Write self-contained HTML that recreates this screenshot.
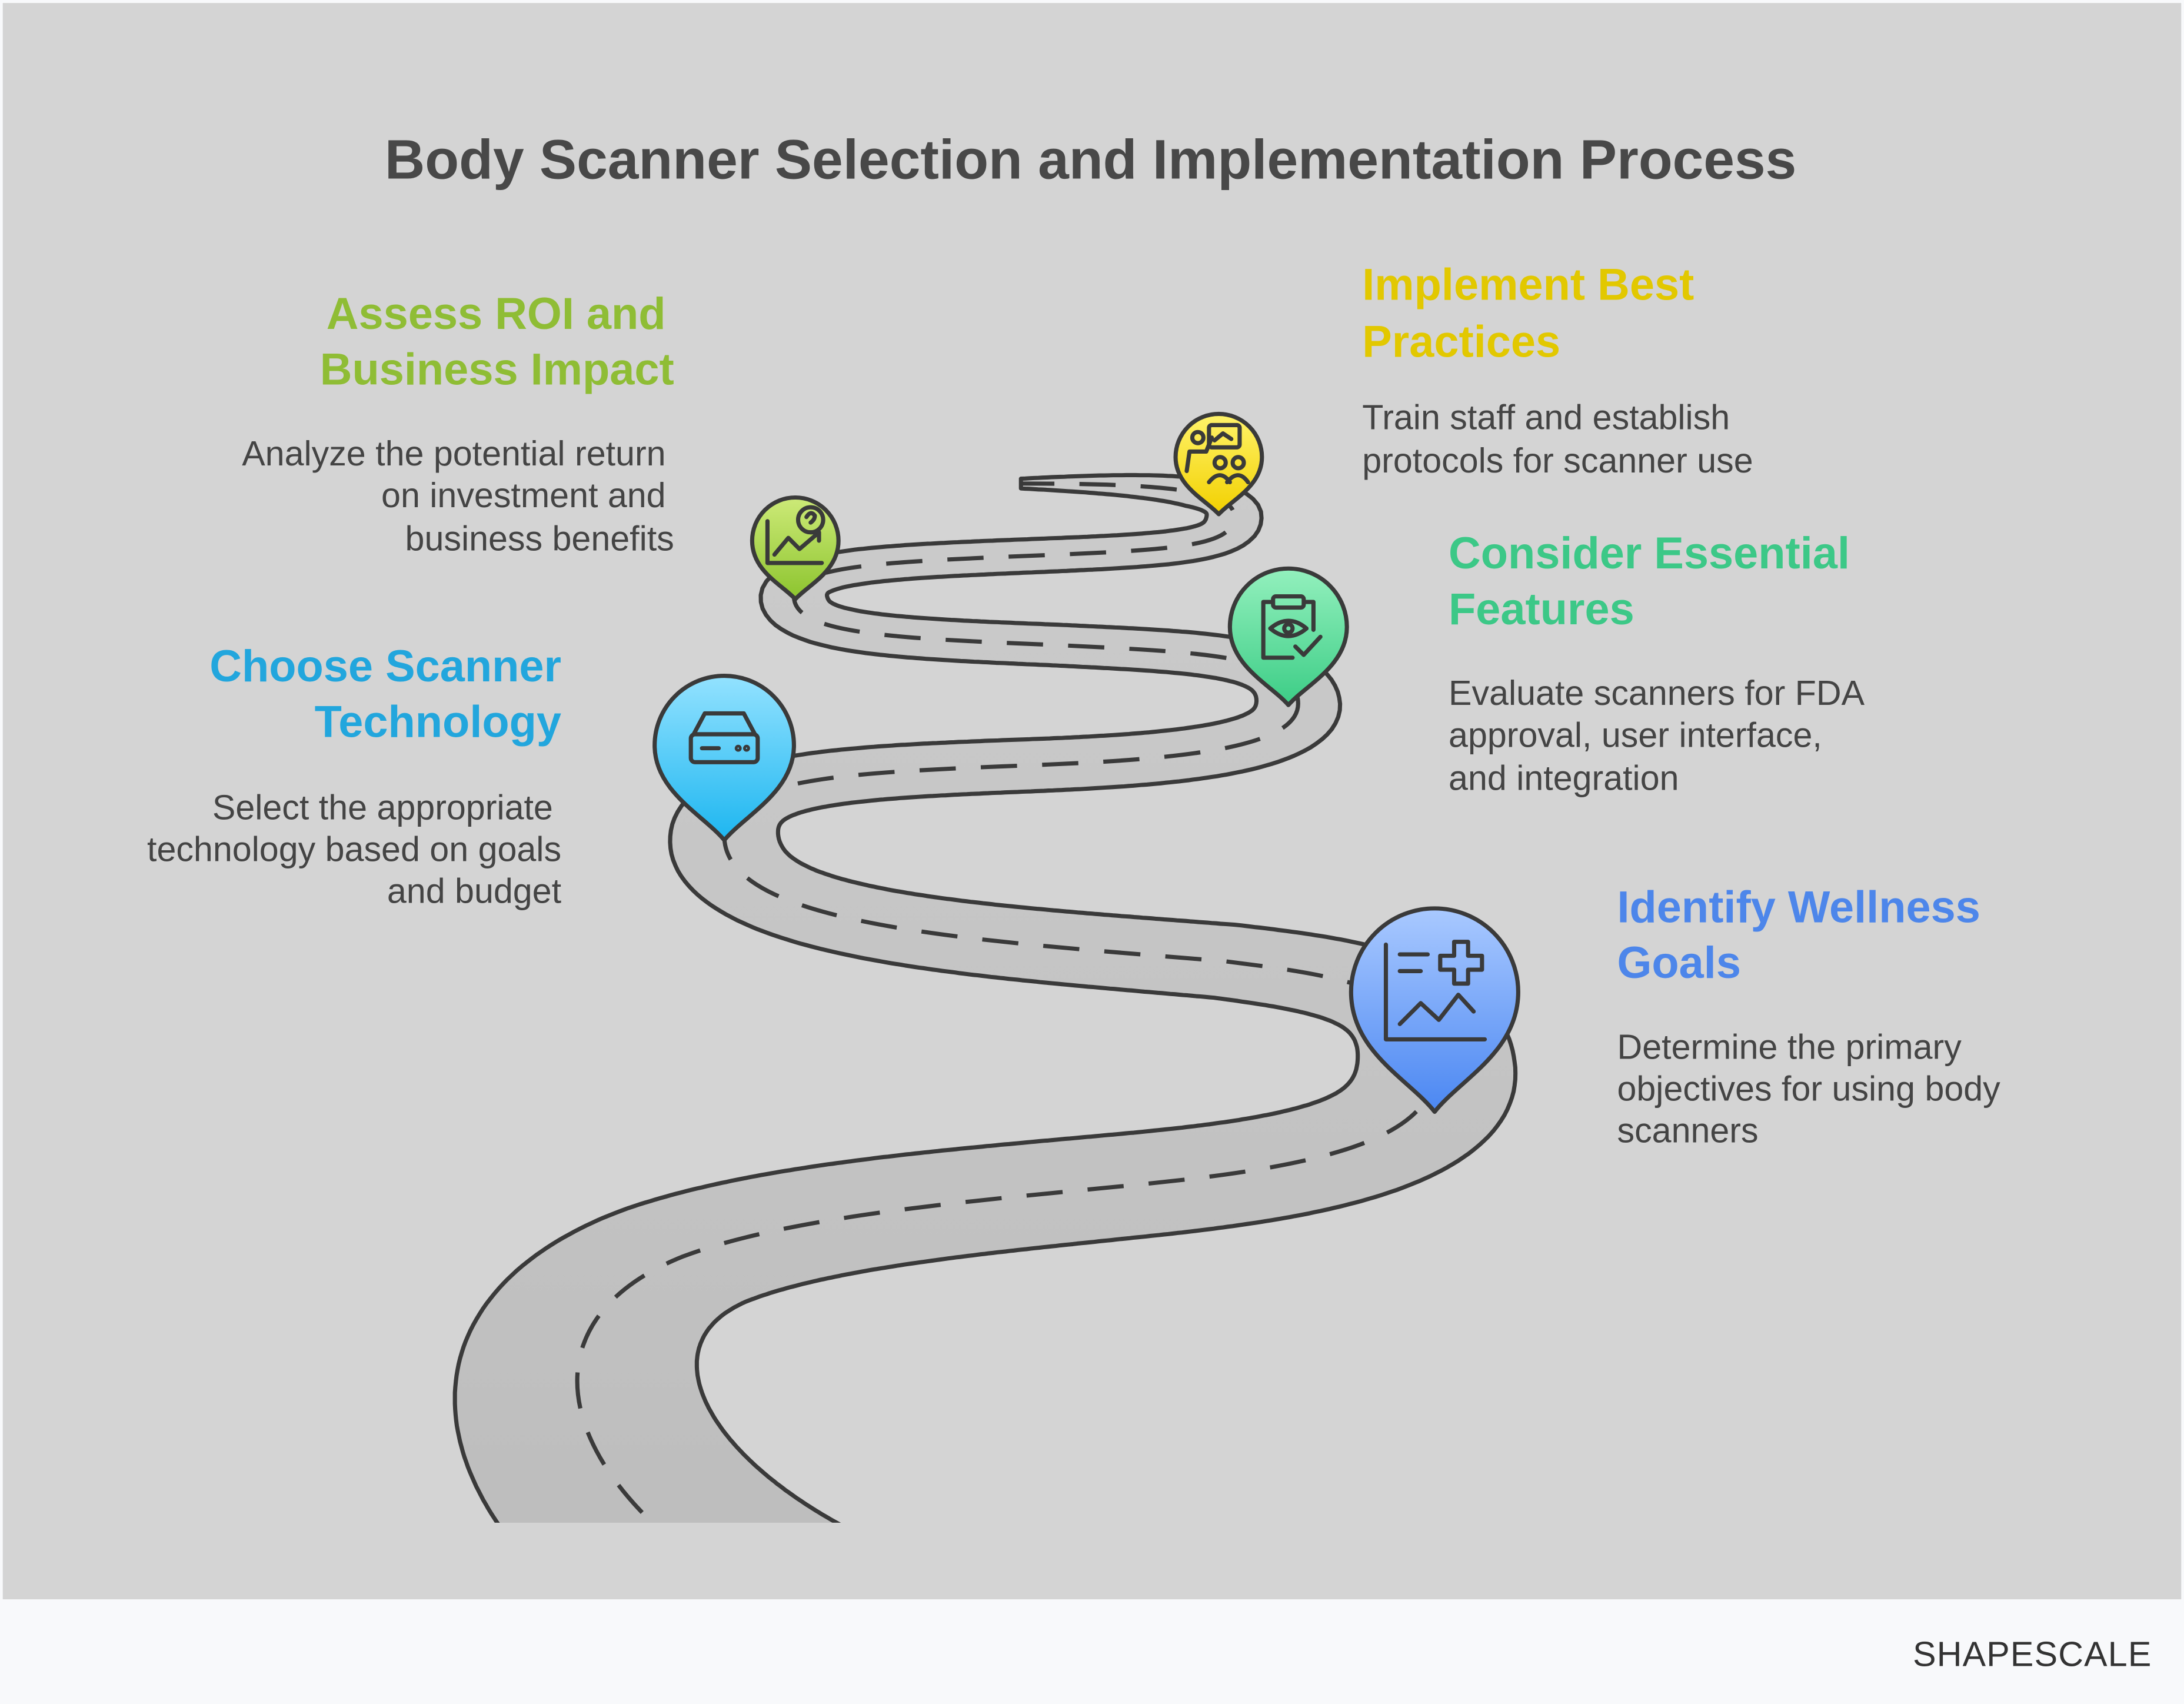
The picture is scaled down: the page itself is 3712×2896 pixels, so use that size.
<!DOCTYPE html>
<html><head><meta charset="utf-8">
<style>
html,body{margin:0;padding:0;background:#f8f9fb;}
svg{display:block;}
text{font-family:"Liberation Sans",sans-serif;}
</style></head>
<body>
<svg id="s" width="3712" height="2896" viewBox="0 0 1568 1223" xmlns="http://www.w3.org/2000/svg">
<defs>
<linearGradient id="road" x1="0" y1="1" x2="0" y2="0">
<stop offset="0" stop-color="#bcbcbc"/><stop offset="1" stop-color="#cbcbcb"/>
</linearGradient>
<linearGradient id="gBlue" x1="0" y1="0" x2="0" y2="1"><stop offset="0" stop-color="#a9c9ff"/><stop offset="1" stop-color="#4b87f2"/></linearGradient>
<linearGradient id="gCyan" x1="0" y1="0" x2="0" y2="1"><stop offset="0" stop-color="#93e2ff"/><stop offset="1" stop-color="#1db6f0"/></linearGradient>
<linearGradient id="gGreen" x1="0" y1="0" x2="0" y2="1"><stop offset="0" stop-color="#93f0bd"/><stop offset="1" stop-color="#3ccd86"/></linearGradient>
<linearGradient id="gLime" x1="0" y1="0" x2="0" y2="1"><stop offset="0" stop-color="#cdea78"/><stop offset="1" stop-color="#8cc42e"/></linearGradient>
<linearGradient id="gYel" x1="0" y1="0" x2="0" y2="1"><stop offset="0" stop-color="#fff36a"/><stop offset="1" stop-color="#f2d000"/></linearGradient>
<clipPath id="clip"><rect x="0" y="0" width="1568" height="1093"/></clipPath>
</defs>
<rect x="0" y="0" width="1568" height="1223" fill="#f8f9fb"/>
<rect x="2" y="2" width="1564" height="1146" fill="#d4d4d4"/>

<text x="783" y="128" text-anchor="middle" font-size="40" font-weight="bold" fill="#484848">Body Scanner Selection and Implementation Process</text>

<g clip-path="url(#clip)">
<polygon id="roadpoly" points="" fill="url(#road)" stroke="#3a3a3a" stroke-width="3" stroke-linejoin="round"/>
<path id="center" d="M530,1140 C400,1060 370,950 490,902 C570,872 700,862 820,850 C940,838 1031,820 1031,765 C1031,710 960,700 880,690 C700,675 520,665 520,600 C520,560 600,555 720,550 C830,546 932,540 932,505 C932,470 860,468 760,463 C640,458 570,455 570,428 C570,405 640,403 760,398 C855,394 886,390 886,370 C886,350 820,347 733,347" fill="none" stroke="#3a3a3a" stroke-width="3" stroke-dasharray="26 18"/>
</g>

<!-- Pins -->
<g stroke="#3a3a3a" stroke-width="3" stroke-linejoin="round">
<path d="M1030,798 C1012,775 970,755 970,712 A60,60 0 1 1 1090,712 C1090,755 1048,775 1030,798 Z" fill="url(#gBlue)"/>
<path d="M520,603 C505,585 470,568 470,535 A50,50 0 1 1 570,535 C570,568 535,585 520,603 Z" fill="url(#gCyan)"/>
<path d="M925,506 C913,492 883,478 883,450 A42,42 0 1 1 967,450 C967,478 937,492 925,506 Z" fill="url(#gGreen)"/>
<path d="M571,430 C562,420 540,410 540,388 A31,31 0 1 1 602,388 C602,410 580,420 571,430 Z" fill="url(#gLime)"/>
<path d="M875,369 C866,359 844,349 844,328 A31,31 0 1 1 906,328 C906,349 884,359 875,369 Z" fill="url(#gYel)"/>
</g>

<!-- Icons -->
<g fill="none" stroke="#3a3a3a" stroke-width="3" stroke-linecap="round" stroke-linejoin="round">
<path d="M995,678 L995,746 L1066,746"/>
<path d="M1005,685 L1025,685 M1005,697 L1020,697"/>
<path d="M1044,676 h10 v10 h10 v10 h-10 v10 h-10 v-10 h-10 v-10 h10 z"/>
<path d="M1005,735 L1020,720 L1033,732 L1047,714 L1058,726"/>
<path d="M498,527 L506,512 L534,512 L542,527 Z"/>
<rect x="496" y="527" width="48" height="20" rx="3"/>
<path d="M504,537 L516,537"/>
<circle cx="530" cy="537" r="1" /><circle cx="536" cy="537" r="1"/>
<path d="M913,432 L907,432 L907,472 L928,472 M943,452 L943,432 L937,432"/>
<rect x="914" y="428" width="22" height="8" rx="2"/>
<path d="M912,451 Q925,440 938,451 Q925,462 912,451 Z"/>
<circle cx="925" cy="451" r="3"/>
<path d="M930,464 L936,470 L948,457"/>
<path d="M551,374 L551,404 L590,404"/>
<path d="M556,398 L566,386 L574,394 L588,382 M582,382 L588,382 L588,388"/>
<circle cx="582" cy="373" r="9"/>
<path d="M579,371 Q582,366 585,370 Q585,373 582,375"/>
<circle cx="860" cy="314" r="4"/>
<path d="M852,338 L854,324 L866,324 L870,314"/>
<rect x="868" y="305" width="22" height="16" rx="2"/>
<path d="M872,316 L878,311 L884,315"/>
<circle cx="876" cy="332" r="4"/><circle cx="889" cy="332" r="4"/>
<path d="M868,346 Q876,336 883,346 M881,346 Q889,336 896,346"/>
</g>

<!-- Texts -->
<g font-weight="bold" font-size="32">
<text x="1161" y="662" fill="#4d86ea">Identify Wellness</text>
<text x="1161" y="702" fill="#4d86ea">Goals</text>
<text x="403" y="489" fill="#22a6dd" text-anchor="end">Choose Scanner</text>
<text x="403" y="529" fill="#22a6dd" text-anchor="end">Technology</text>
<text x="1040" y="408" fill="#3cc887">Consider Essential</text>
<text x="1040" y="448" fill="#3cc887">Features</text>
<text x="478" y="236" fill="#8fbd35" text-anchor="end">Assess ROI and</text>
<text x="484" y="276" fill="#8fbd35" text-anchor="end">Business Impact</text>
<text x="978" y="215" fill="#e2c800">Implement Best</text>
<text x="978" y="256" fill="#e2c800">Practices</text>
</g>
<g font-size="25" fill="#444">
<text x="1161" y="760">Determine the primary</text>
<text x="1161" y="790">objectives for using body</text>
<text x="1161" y="820">scanners</text>
<text x="397" y="588" text-anchor="end">Select the appropriate</text>
<text x="403" y="618" text-anchor="end">technology based on goals</text>
<text x="403" y="648" text-anchor="end">and budget</text>
<text x="1040" y="506">Evaluate scanners for FDA</text>
<text x="1040" y="536">approval, user interface,</text>
<text x="1040" y="567">and integration</text>
<text x="478" y="334" text-anchor="end">Analyze the potential return</text>
<text x="478" y="364" text-anchor="end">on investment and</text>
<text x="484" y="395" text-anchor="end">business benefits</text>
<text x="978" y="308">Train staff and establish</text>
<text x="978" y="339">protocols for scanner use</text>
</g>
<text x="1545" y="1196" text-anchor="end" font-size="25" fill="#333" letter-spacing="0.5">SHAPESCALE</text>
</svg>
<script>
(function(){
var p=document.getElementById('center');
var L=p.getTotalLength(),N=900,k=0.55,pts=[];
for(var i=0;i<=N;i++){var q=p.getPointAtLength(L*i/N);pts.push([q.x,q.y]);}
var left=[],right=[];
for(var i=0;i<=N;i++){
 var a=pts[Math.max(0,i-1)],b=pts[Math.min(N,i+1)];
 var tx=b[0]-a[0],ty=(b[1]-a[1])/k;var m=Math.hypot(tx,ty)||1;tx/=m;ty/=m;
 var nx=-ty,ny=tx;var y=pts[i][1];var d=Math.max(0,y-345);
 var W=36+0.13*d+0.00013*d*d;
 if(i>N-40){W*=Math.max(0.35,(N-i)/40*0.65+0.35);}
 var ox=nx*W/2,oy=ny*k*W/2;
 left.push((pts[i][0]+ox).toFixed(1)+','+(pts[i][1]+oy).toFixed(1));
 right.push((pts[i][0]-ox).toFixed(1)+','+(pts[i][1]-oy).toFixed(1));
}
document.getElementById('roadpoly').setAttribute('points',left.concat(right.reverse()).join(' '));
})();
</script>
</body></html>
